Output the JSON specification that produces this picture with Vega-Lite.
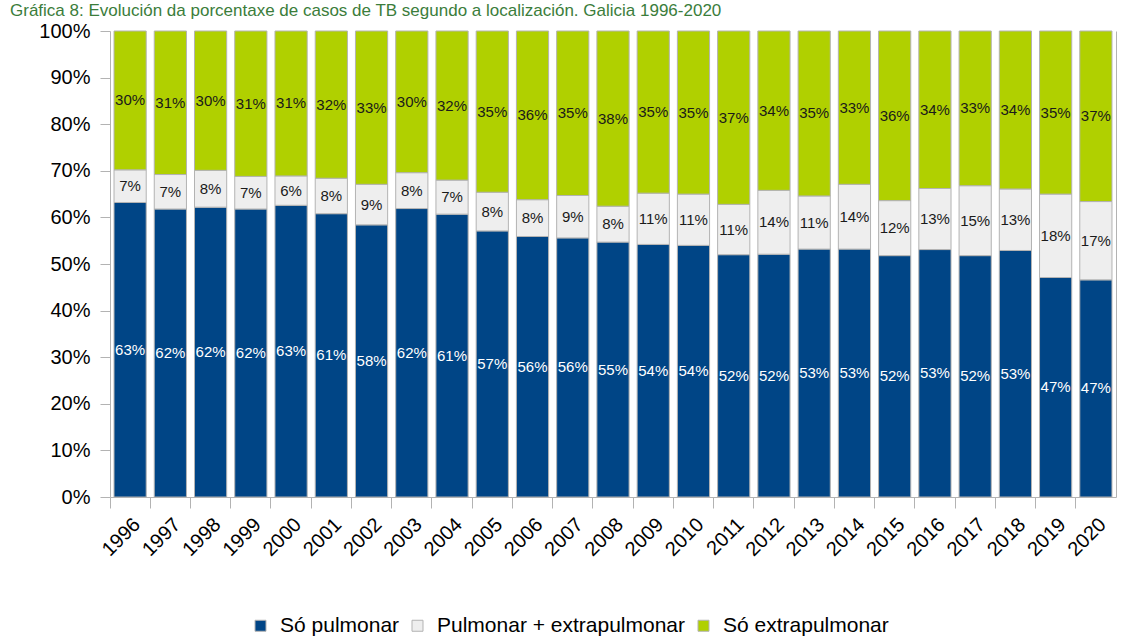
{
  "$schema": "https://vega.github.io/schema/vega-lite/v6.json",
  "width": 1006,
  "height": 466,
  "autosize": {"type": "none"},
  "padding": {"left": 110, "top": 31, "right": 15, "bottom": 143},
  "background": "white",
  "config": {"view": {"stroke": null}, "font": "Liberation Sans"},
  "title": {
    "text": "Gráfica 8: Evolución da porcentaxe de casos de TB segundo a localización. Galicia 1996-2020",
    "anchor": "start",
    "frame": "group",
    "dx": -100,
    "dy": 12,
    "offset": 0,
    "baseline": "alphabetic",
    "fontSize": 17,
    "fontWeight": "normal",
    "color": "#3b7d3b",
    "font": "Liberation Sans"
  },
  "data": {
    "values": [
      {"year": "1996", "loc": "Só pulmonar", "v": 0.632}, {"year": "1996", "loc": "Pulmonar + extrapulmonar", "v": 0.070}, {"year": "1996", "loc": "Só extrapulmonar", "v": 0.298},
      {"year": "1997", "loc": "Só pulmonar", "v": 0.618}, {"year": "1997", "loc": "Pulmonar + extrapulmonar", "v": 0.074}, {"year": "1997", "loc": "Só extrapulmonar", "v": 0.308},
      {"year": "1998", "loc": "Só pulmonar", "v": 0.622}, {"year": "1998", "loc": "Pulmonar + extrapulmonar", "v": 0.079}, {"year": "1998", "loc": "Só extrapulmonar", "v": 0.299},
      {"year": "1999", "loc": "Só pulmonar", "v": 0.618}, {"year": "1999", "loc": "Pulmonar + extrapulmonar", "v": 0.070}, {"year": "1999", "loc": "Só extrapulmonar", "v": 0.312},
      {"year": "2000", "loc": "Só pulmonar", "v": 0.626}, {"year": "2000", "loc": "Pulmonar + extrapulmonar", "v": 0.063}, {"year": "2000", "loc": "Só extrapulmonar", "v": 0.311},
      {"year": "2001", "loc": "Só pulmonar", "v": 0.608}, {"year": "2001", "loc": "Pulmonar + extrapulmonar", "v": 0.076}, {"year": "2001", "loc": "Só extrapulmonar", "v": 0.316},
      {"year": "2002", "loc": "Só pulmonar", "v": 0.584}, {"year": "2002", "loc": "Pulmonar + extrapulmonar", "v": 0.087}, {"year": "2002", "loc": "Só extrapulmonar", "v": 0.329},
      {"year": "2003", "loc": "Só pulmonar", "v": 0.619}, {"year": "2003", "loc": "Pulmonar + extrapulmonar", "v": 0.077}, {"year": "2003", "loc": "Só extrapulmonar", "v": 0.304},
      {"year": "2004", "loc": "Só pulmonar", "v": 0.607}, {"year": "2004", "loc": "Pulmonar + extrapulmonar", "v": 0.073}, {"year": "2004", "loc": "Só extrapulmonar", "v": 0.320},
      {"year": "2005", "loc": "Só pulmonar", "v": 0.571}, {"year": "2005", "loc": "Pulmonar + extrapulmonar", "v": 0.083}, {"year": "2005", "loc": "Só extrapulmonar", "v": 0.346},
      {"year": "2006", "loc": "Só pulmonar", "v": 0.559}, {"year": "2006", "loc": "Pulmonar + extrapulmonar", "v": 0.079}, {"year": "2006", "loc": "Só extrapulmonar", "v": 0.362},
      {"year": "2007", "loc": "Só pulmonar", "v": 0.556}, {"year": "2007", "loc": "Pulmonar + extrapulmonar", "v": 0.091}, {"year": "2007", "loc": "Só extrapulmonar", "v": 0.353},
      {"year": "2008", "loc": "Só pulmonar", "v": 0.547}, {"year": "2008", "loc": "Pulmonar + extrapulmonar", "v": 0.077}, {"year": "2008", "loc": "Só extrapulmonar", "v": 0.376},
      {"year": "2009", "loc": "Só pulmonar", "v": 0.542}, {"year": "2009", "loc": "Pulmonar + extrapulmonar", "v": 0.110}, {"year": "2009", "loc": "Só extrapulmonar", "v": 0.348},
      {"year": "2010", "loc": "Só pulmonar", "v": 0.540}, {"year": "2010", "loc": "Pulmonar + extrapulmonar", "v": 0.110}, {"year": "2010", "loc": "Só extrapulmonar", "v": 0.350},
      {"year": "2011", "loc": "Só pulmonar", "v": 0.520}, {"year": "2011", "loc": "Pulmonar + extrapulmonar", "v": 0.108}, {"year": "2011", "loc": "Só extrapulmonar", "v": 0.372},
      {"year": "2012", "loc": "Só pulmonar", "v": 0.521}, {"year": "2012", "loc": "Pulmonar + extrapulmonar", "v": 0.137}, {"year": "2012", "loc": "Só extrapulmonar", "v": 0.342},
      {"year": "2013", "loc": "Só pulmonar", "v": 0.532}, {"year": "2013", "loc": "Pulmonar + extrapulmonar", "v": 0.114}, {"year": "2013", "loc": "Só extrapulmonar", "v": 0.354},
      {"year": "2014", "loc": "Só pulmonar", "v": 0.532}, {"year": "2014", "loc": "Pulmonar + extrapulmonar", "v": 0.139}, {"year": "2014", "loc": "Só extrapulmonar", "v": 0.329},
      {"year": "2015", "loc": "Só pulmonar", "v": 0.518}, {"year": "2015", "loc": "Pulmonar + extrapulmonar", "v": 0.118}, {"year": "2015", "loc": "Só extrapulmonar", "v": 0.364},
      {"year": "2016", "loc": "Só pulmonar", "v": 0.531}, {"year": "2016", "loc": "Pulmonar + extrapulmonar", "v": 0.131}, {"year": "2016", "loc": "Só extrapulmonar", "v": 0.338},
      {"year": "2017", "loc": "Só pulmonar", "v": 0.518}, {"year": "2017", "loc": "Pulmonar + extrapulmonar", "v": 0.150}, {"year": "2017", "loc": "Só extrapulmonar", "v": 0.332},
      {"year": "2018", "loc": "Só pulmonar", "v": 0.529}, {"year": "2018", "loc": "Pulmonar + extrapulmonar", "v": 0.132}, {"year": "2018", "loc": "Só extrapulmonar", "v": 0.339},
      {"year": "2019", "loc": "Só pulmonar", "v": 0.471}, {"year": "2019", "loc": "Pulmonar + extrapulmonar", "v": 0.179}, {"year": "2019", "loc": "Só extrapulmonar", "v": 0.350},
      {"year": "2020", "loc": "Só pulmonar", "v": 0.466}, {"year": "2020", "loc": "Pulmonar + extrapulmonar", "v": 0.168}, {"year": "2020", "loc": "Só extrapulmonar", "v": 0.366}
    ]
  },
  "transform": [
    {"calculate": "indexof(['Só pulmonar','Pulmonar + extrapulmonar','Só extrapulmonar'], datum.loc)", "as": "ord"},
    {"stack": "v", "groupby": ["year"], "sort": [{"field": "ord", "order": "ascending"}], "as": ["v0", "v1"]},
    {"calculate": "(datum.v0 + datum.v1) / 2", "as": "vm"}
  ],
  "encoding": {
    "x": {
      "field": "year",
      "type": "ordinal",
      "scale": {"paddingInner": 0, "paddingOuter": 0},
      "axis": {
        "title": null,
        "labelAngle": -45,
        "labelFontSize": 20,
        "labelColor": "#000000",
        "labelFont": "Liberation Sans",
        "bandPosition": 0,
        "tickSize": 11,
        "tickColor": "#b3b3b3",
        "domainColor": "#b3b3b3",
        "labelPadding": 6,
        "grid": false
      }
    }
  },
  "layer": [
    {
      "mark": {"type": "bar", "width": {"band": 0.8}, "stroke": "#b3b3b3", "strokeWidth": 1},
      "encoding": {
        "y": {
          "field": "v0",
          "type": "quantitative",
          "scale": {"domain": [0, 1]},
          "axis": {
            "title": null,
            "values": [0, 0.1, 0.2, 0.3, 0.4, 0.5, 0.6, 0.7, 0.8, 0.9, 1],
            "format": ".0%",
            "labelFontSize": 20,
            "labelColor": "#000000",
            "labelFont": "Liberation Sans",
            "tickSize": 10,
            "tickColor": "#b3b3b3",
            "domainColor": "#b3b3b3",
            "labelPadding": 10,
            "grid": false
          }
        },
        "y2": {"field": "v1"},
        "color": {
          "field": "loc",
          "type": "nominal",
          "sort": ["Só pulmonar", "Pulmonar + extrapulmonar", "Só extrapulmonar"],
          "scale": {
            "domain": ["Só pulmonar", "Pulmonar + extrapulmonar", "Só extrapulmonar"],
            "range": ["#004586", "#eeeeee", "#b0d000"]
          },
          "legend": {
            "title": null,
            "orient": "none",
            "direction": "horizontal",
            "legendX": 140,
            "legendY": 584,
            "symbolType": "square",
            "symbolSize": 121,
            "symbolStrokeColor": "#b3b3b3",
            "symbolStrokeWidth": 1,
            "symbolOpacity": 1,
            "labelFontSize": 21,
            "labelFont": "Liberation Sans",
            "labelColor": "#000000",
            "labelOffset": 9,
            "labelLimit": 400,
            "columnPadding": 7,
            "padding": 0
          }
        }
      }
    },
    {
      "mark": {"type": "text", "fontSize": 15, "font": "Liberation Sans"},
      "encoding": {
        "y": {
          "field": "vm",
          "type": "quantitative",
          "scale": {"domain": [0, 1]},
          "axis": {
            "orient": "right",
            "title": null,
            "labels": false,
            "ticks": false,
            "grid": false,
            "domainColor": "#b3b3b3"
          }
        },
        "text": {"field": "v", "type": "quantitative", "format": ".0%"},
        "color": {
          "condition": {"test": "datum.loc === 'Só pulmonar'", "value": "#ffffff"},
          "value": "#1a1a1a"
        }
      }
    }
  ],
  "resolve": {"axis": {"y": "independent"}}
}
